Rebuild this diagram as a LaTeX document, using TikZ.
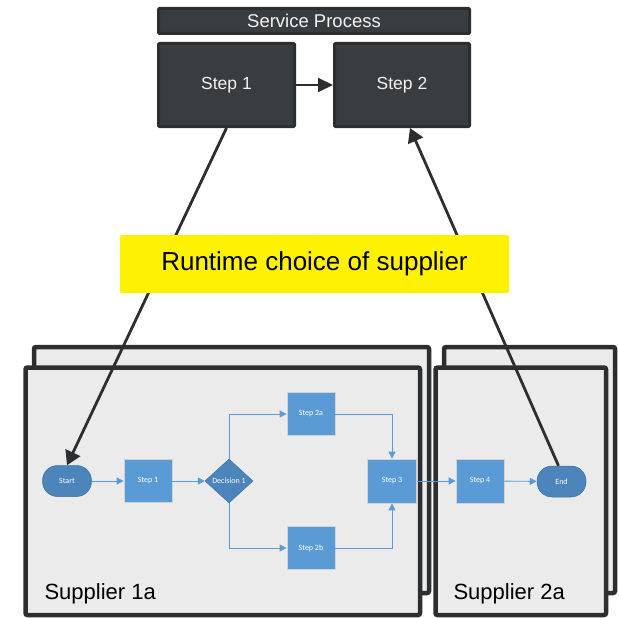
\documentclass[tikz,border=0pt]{standalone}
\usepackage{fontspec}
\setmainfont{Liberation Sans}
\newfontfamily\calfont{Carlito}
\usepackage{xcolor}
\usepackage{tikz}
\usetikzlibrary{arrows.meta,shapes.geometric}
\definecolor{darkbox}{HTML}{3A3D40}
\definecolor{darkline}{HTML}{2D2E30}
\definecolor{flowblue}{HTML}{5B9BD5}
\definecolor{flowdark}{HTML}{4B85BB}
\definecolor{panel}{HTML}{EBEBEB}

\tikzset{
	svcbox/.style={draw=darkline, line width=3pt, fill=darkbox, text=white!90!gray, inner sep=0pt, rounded corners=1pt},
	frame/.style={draw=darkline, line width=4.5pt, fill=panel, rounded corners=2pt},
	flowstep/.style={draw=gray!35, line width=0.8pt, fill=flowblue, text=white, minimum width=48pt, minimum height=43pt, inner sep=0pt, font=\calfont\fontsize{8}{9}\selectfont},
	flowend/.style={draw=flowdark!85!black, line width=0.5pt, fill=flowdark, text=white, minimum width=49pt, minimum height=31pt, rounded corners=15pt, inner sep=0pt, font=\calfont\fontsize{8}{9}\selectfont},
	flowline/.style={flowblue, line width=0.9pt, -{Triangle[length=7pt,width=7pt]}},
	bigline/.style={darkline, line width=2.8pt, -{Triangle[length=14pt,width=16pt]}}
}

\begin{document}
\begin{tikzpicture}[x=1pt,y=-1pt]
 \useasboundingbox (0,0) rectangle (619,618);
 % supplier frames
 \draw[frame] (34,347) rectangle (429,593);
 \draw[frame] (444,347) rectangle (615,593);
 \draw[frame] (25.5,367.5) rectangle (420,615);
 \draw[frame] (435.5,367.5) rectangle (606,615);
 \node[anchor=west, font=\fontsize{22}{24}\selectfont] (supa) at (41,594) {Supplier 1a};
 \node[anchor=west, font=\fontsize{22}{24}\selectfont] (supb) at (450,594) {Supplier 2a};
	%flowchart
	\node[flowend] (start) at (67,481) {Start};
	\node[flowstep] (stepa) at (148,481) {Step 1};
	\node[diamond, draw=flowdark!85!black, line width=0.5pt, fill=flowdark, text=white, minimum width=48pt, minimum height=44pt, inner sep=0pt, font=\calfont\fontsize{8}{9}\selectfont] (dec) at (229,481) {\makebox[0pt]{Decision 1}};
	\node[flowstep] (stepba) at (311,414) {Step 2a};
	\node[flowstep] (stepbb) at (311,548) {Step 2b};
	\node[flowstep, minimum width=49pt, minimum height=44pt] (stepc) at (392,481) {Step 3};
	\node[flowstep, minimum height=44pt] (stepd) at (480,481) {Step 4};
	\node[flowend] (end) at (561.5,481.5) {End};
	\draw[flowline] (start) -- (stepa);
	\draw[flowline] (stepa) -- (dec);
	\draw[flowline] (dec.north) |- (stepba.west);
	\draw[flowline] (dec.south) |- (stepbb.west);
	\draw[flowline] (stepba.east) -| (stepc.north);
	\draw[flowline] (stepbb.east) -| (stepc.south);
	\draw[flowline] (stepc) -- (stepd);
	\draw[flowline] (stepd) -- (end);
	%Ende flowchart
 \node[svcbox, minimum width=311pt, minimum height=25pt, font=\fontsize{18.5}{20}\selectfont] (svc) at (314,21) {Service Process};
 \node[svcbox, minimum width=136pt, minimum height=83pt, font=\fontsize{17.5}{19}\selectfont] (bigstepa) at (226.5,85) {Step 1};
 \node[svcbox, minimum width=135pt, minimum height=83pt, font=\fontsize{17.5}{19}\selectfont] (bigstepb) at (402,85) {Step 2};
 \draw[darkline, line width=2pt, -{Triangle[length=15pt,width=14pt]}] (bigstepa) -- (bigstepb);
 \draw[bigline] (bigstepa.south) -- (start.north);
 \draw[bigline] ([xshift=-3pt]end.north) -- ([xshift=8pt]bigstepb.south);
 \node[fill=yellow, rounded corners=2pt, minimum width=389pt, minimum height=58pt, font=\fontsize{26}{28}\selectfont] (choice) at (314.5,264) {Runtime choice of supplier};
\end{tikzpicture}
\end{document}
